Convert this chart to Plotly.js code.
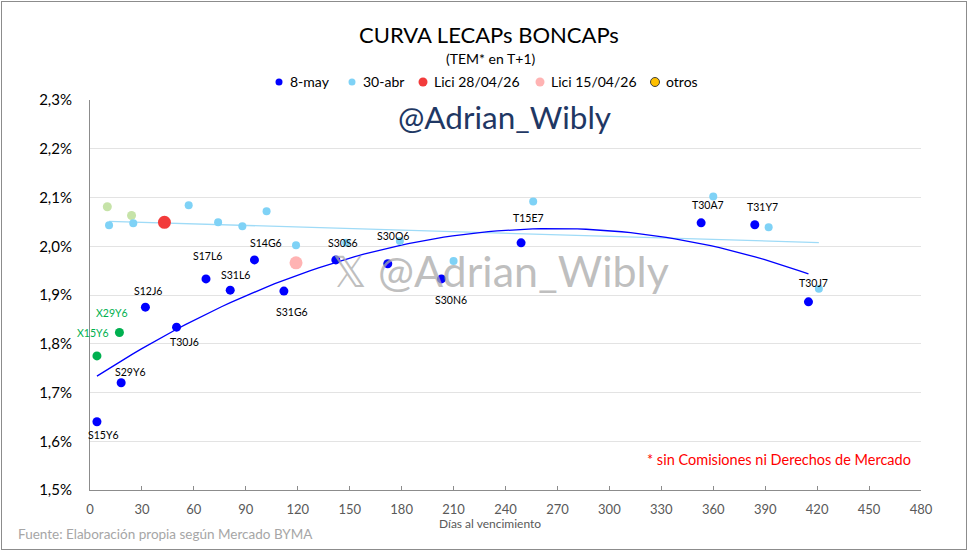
<!DOCTYPE html>
<html>
<head>
<meta charset="utf-8">
<script src="https://cdn.plot.ly/plotly-3.0.1.min.js"></script>
<style>
  html, body { margin: 0; padding: 0; background: #fff; }
  #chart { position: absolute; left: 0; top: 0; width: 970px; height: 553px; }
  #frame { position: absolute; left: 1px; top: 1px; width: 966px; height: 549px;
           border: 1px solid #8c8c8c; box-sizing: border-box; pointer-events: none; }
</style>
</head>
<body>
<div id="chart"></div>
<div id="frame"></div>
<script>
// LECAPs / BONCAPs priced on 8-may (days to maturity, TEM %)
const may8Tickers = ["S15Y6","S29Y6","S12J6","T30J6","S17L6","S31L6","S14G6","S31G6",
                     "S30S6","S30O6","S30N6","T15E7","T30A7","T31Y7","T30J7"];
const may8Days = [4, 18, 32, 50, 67, 81, 95, 112, 142, 172, 203, 249, 353, 384, 415];
const may8Tem  = [1.640, 1.720, 1.875, 1.834, 1.933, 1.910, 1.972, 1.908,
                  1.972, 1.964, 1.933, 2.007, 2.048, 2.044, 1.886];

// Same curve on 30-abr
const apr30Days = [11, 25, 57, 74, 88, 102, 119, 148, 179, 210, 256, 360, 392, 421];
const apr30Tem  = [2.043, 2.047, 2.084, 2.049, 2.041, 2.072, 2.002, 2.007,
                   2.011, 1.970, 2.092, 2.102, 2.039, 1.913];

// Auction results
const lici2804Days = [43];
const lici2804Tem  = [2.049];
const lici1504Days = [119];
const lici1504Tem  = [1.966];

// Dollar-linked / other instruments
const dlTickers = ["X15Y6", "X29Y6"];
const dlDays = [4, 17];
const dlTem  = [1.775, 1.823];
const prevOtherDays = [10, 24];
const prevOtherTem  = [2.081, 2.063];

// Axis ticks
const xTicks = [0, 30, 60, 90, 120, 150, 180, 210, 240, 270, 300, 330, 360, 390, 420, 450, 480];
const yTicks = [1.5, 1.6, 1.7, 1.8, 1.9, 2.0, 2.1, 2.2, 2.3];
const yTickText = yTicks.map(v => v.toFixed(1).replace(".", ",") + "%");

// Legend entries
const legendNames = ["8-may", "30-abr", "Lici 28/04/26", "Lici 15/04/26", "otros"];

// Label offsets (px) relative to each point
const labelShift = {
  S15Y6: [7, -13], S29Y6: [9, 11], S12J6: [3, 16], T30J6: [8, -15], S17L6: [2, 23],
  S31L6: [5, 15], S14G6: [12, 17], S31G6: [8, -21], S30S6: [7, 17], S30O6: [5, 28],
  S30N6: [10, -21], T15E7: [7, 25], T30A7: [7, 18], T31Y7: [8, 18], T30J7: [5, 19],
  X15Y6: [-4, 23], X29Y6: [-7, 20]
};

// Least-squares polynomial trendline y = c0 + c1 x + ... of the given order
function polyFit(xs, ys, order) {
  const m = order + 1;
  const sc = Math.max(...xs);
  const A = Array.from({ length: m }, () => new Array(m).fill(0));
  const b = new Array(m).fill(0);
  xs.forEach((x0, i) => {
    const x = x0 / sc;
    for (let r = 0; r < m; r++) {
      b[r] += ys[i] * Math.pow(x, r);
      for (let c = 0; c < m; c++) A[r][c] += Math.pow(x, r + c);
    }
  });
  for (let k = 0; k < m; k++) {
    for (let r = k + 1; r < m; r++) {
      const f = A[r][k] / A[k][k];
      for (let c = k; c < m; c++) A[r][c] -= f * A[k][c];
      b[r] -= f * b[k];
    }
  }
  const coef = new Array(m).fill(0);
  for (let r = m - 1; r >= 0; r--) {
    let s = b[r];
    for (let c = r + 1; c < m; c++) s -= A[r][c] * coef[c];
    coef[r] = s / A[r][r];
  }
  const lo = Math.min(...xs), hi = Math.max(...xs), n = 80;
  const tx = [], ty = [];
  for (let i = 0; i <= n; i++) {
    const x = lo + (hi - lo) * i / n;
    tx.push(x);
    ty.push(coef.reduce((acc, c, p) => acc + c * Math.pow(x / sc, p), 0));
  }
  return { x: tx, y: ty };
}

const fitMay8 = polyFit(may8Days, may8Tem, 2);
const fitApr30 = polyFit(apr30Days, apr30Tem, 1);

const BLUE = "#0000FF", LIGHT = "#7FD2F6", GREEN = "#00B050";
const RED = "#F23B3B", PINK = "#FFB3B3", GOLD = "#FFC000";
const FONT = "Lato, 'Open Sans', sans-serif";

const traces = [
  { x: fitApr30.x, y: fitApr30.y, mode: "lines", line: { color: "#9FDBF7", width: 1.3 },
    hoverinfo: "skip" },
  { x: fitMay8.x, y: fitMay8.y, mode: "lines", line: { color: BLUE, width: 1.3 },
    hoverinfo: "skip" },
  { x: prevOtherDays, y: prevOtherTem, mode: "markers", name: "otros previos",
    marker: { color: "#C6E3A8", size: 9 } },
  { x: may8Days, y: may8Tem, name: legendNames[0], mode: "markers",
    marker: { color: BLUE, size: 9 } },
  { x: apr30Days, y: apr30Tem, name: legendNames[1], mode: "markers",
    marker: { color: LIGHT, size: 8 } },
  { x: lici2804Days, y: lici2804Tem, name: legendNames[2], mode: "markers",
    marker: { color: RED, size: 13 } },
  { x: lici1504Days, y: lici1504Tem, name: legendNames[3], mode: "markers",
    marker: { color: PINK, size: 13 } },
  { x: dlDays, y: dlTem, mode: "markers", name: "dólar linked",
    marker: { color: GREEN, size: 9 } }
];

// Pixel helpers for text placed around the plot area (plot spans x 90..921, y 100..490)
const px = x => (x - 90) / 831;
const py = y => (490 - y) / 390;

const annotations = [];
may8Tickers.forEach((t, i) => annotations.push({
  x: may8Days[i], y: may8Tem[i], xref: "x", yref: "y", text: t, showarrow: false,
  xshift: labelShift[t][0], yshift: labelShift[t][1],
  font: { family: FONT, size: 10.5, color: "#000" }
}));
dlTickers.forEach((t, i) => annotations.push({
  x: dlDays[i], y: dlTem[i], xref: "x", yref: "y", text: t, showarrow: false,
  xshift: labelShift[t][0], yshift: labelShift[t][1],
  font: { family: FONT, size: 10.5, color: GREEN }
}));

const note = (x, y, text, size, color, xanchor) => ({
  xref: "paper", yref: "paper", x: px(x), y: py(y), xanchor: xanchor || "center",
  yanchor: "middle", text, showarrow: false, font: { family: FONT, size, color }
});

annotations.push(
  note(490, 59, "(TEM* en T+1)", 14, "#000"),
  note(504, 117, "@Adrian_Wibly", 31.5, "#1F3864"),
  note(500, 270, "𝕏 @Adrian_Wibly", 43, "rgba(170,170,170,0.75)"),
  note(913, 459, "* sin Comisiones ni Derechos de Mercado", 14.5, "#FF0000", "right"),
  note(490, 523, "Días al vencimiento", 12, "#595959"),
  note(16, 534, "Fuente: Elaboración propia según Mercado BYMA", 13.5, "#A6A6A6", "left")
);

// Legend row across the top of the plot
const legendDotX = [279, 352, 423, 540, 655];
const legendStyle = [
  { color: BLUE, r: 3.5 }, { color: LIGHT, r: 3.5 }, { color: RED, r: 4.5 },
  { color: PINK, r: 4.5 }, { color: GOLD, r: 4.5, line: "#404040" }
];
const shapes = [];
legendNames.forEach((name, i) => {
  const s = legendStyle[i];
  shapes.push({
    type: "circle", xref: "paper", yref: "paper", xsizemode: "pixel", ysizemode: "pixel",
    xanchor: px(legendDotX[i]), yanchor: py(82), x0: -s.r, x1: s.r, y0: -s.r, y1: s.r,
    fillcolor: s.color, line: { color: s.line || s.color, width: s.line ? 1 : 0 }
  });
  annotations.push(note(legendDotX[i] + 8.5, 82, name, 14, "#000", "left"));
});

const layout = {
  width: 970, height: 553,
  margin: { l: 90, r: 49, t: 100, b: 63 },
  paper_bgcolor: "#fff", plot_bgcolor: "#fff",
  font: { family: FONT, color: "#000" },
  title: { text: "CURVA LECAPs BONCAPs", x: 489 / 970, xanchor: "center",
           yref: "container", y: 1 - 35 / 553, yanchor: "middle",
           font: { family: FONT, size: 22, color: "#000" } },
  showlegend: false,
  xaxis: {
    range: [0, 480], tickmode: "array", tickvals: xTicks, ticktext: xTicks.map(String),
    showgrid: false, zeroline: false, showline: true, linecolor: "#8c8c8c", linewidth: 1,
    ticks: "inside", ticklen: 4, tickcolor: "#8c8c8c", ticklabelstandoff: 7,
    tickfont: { family: FONT, size: 13, color: "#595959" }, fixedrange: true
  },
  yaxis: {
    range: [1.5, 2.3], tickmode: "array", tickvals: yTicks, ticktext: yTickText,
    showgrid: true, gridcolor: "#E3E3E3", gridwidth: 1, zeroline: false,
    showline: true, linecolor: "#8c8c8c", linewidth: 1, ticks: "", ticklabelstandoff: 14,
    tickfont: { family: FONT, size: 15, color: "#000" }, fixedrange: true
  },
  shapes: shapes,
  annotations: annotations
};

Plotly.newPlot("chart", traces, layout, { staticPlot: true, displayModeBar: false });
</script>
</body>
</html>
